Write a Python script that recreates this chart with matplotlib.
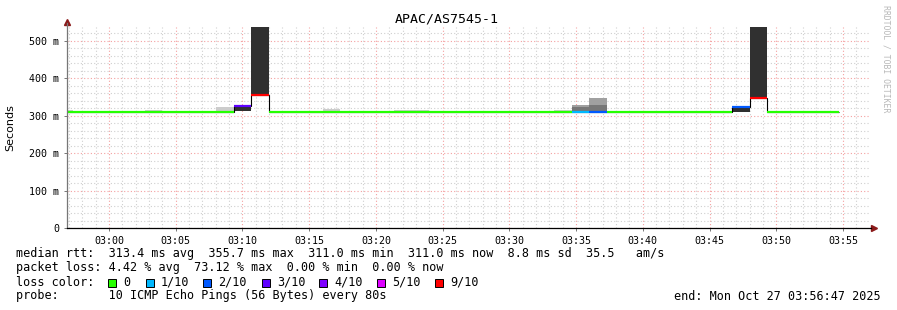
import numpy as np
import pandas as pd
import matplotlib.pyplot as plt
import matplotlib.dates as mdates
from matplotlib.patches import Rectangle
from matplotlib.ticker import MultipleLocator, FuncFormatter

W, H = 897, 310
mono = 'DejaVu Sans Mono'

# 44 samples, one every 80 s
inicio = pd.date_range('2025-10-27 02:56:00', periods=44, freq='80s')
mediana = [311, 311, 311, 311, 311, 311, 311, 311, 311, 311,
           326, 356, 311, 311, 311, 311, 311, 311, 311, 311,
           311, 311, 311, 311, 311, 311, 311, 311, 311, 311,
           311, 311, 311, 311, 311, 311, 311, 311, 323, 348,
           311, 311, 311, 311]
perda = [0, 0, 0, 0, 0, 0, 0, 0, 0, 0,
         3, 9, 0, 0, 0, 0, 0, 0, 0, 0,
         0, 0, 0, 0, 0, 0, 0, 0, 0, 1,
         2, 0, 0, 0, 0, 0, 0, 0, 2, 9,
         0, 0, 0, 0]

# smoke layers (sample index, low, high, shade)
fumaca_idx = [0, 5, 9, 10, 11, 15, 19, 20, 28, 29, 29, 30, 30, 38, 39]
fumaca_min = [311, 311, 311, 312, 356, 311, 311, 311, 311, 311, 322, 311, 328, 311, 348]
fumaca_max = [316, 316, 324, 325, 560, 318, 314, 314, 315, 322, 328, 328, 347, 321, 560]
fumaca_cor = ['#cccccc', '#cccccc', '#cccccc', '#303030', '#303030', '#cccccc', '#cccccc',
              '#cccccc', '#cccccc', '#777777', '#a0a0a0', '#777777', '#a0a0a0', '#303030', '#303030']

cores_perda = {0: '#26ff00', 1: '#00b8ff', 2: '#0059ff', 3: '#5e00ff',
               4: '#7e00ff', 5: '#dd00ff', 9: '#ff0000'}
rotulos_perda = ['0', '1/10', '2/10', '3/10', '4/10', '5/10', '9/10']
chaves_perda = [0, 1, 2, 3, 4, 5, 9]

passo = 80 / 86400
x0 = mdates.date2num(inicio)
x1 = x0 + passo

fig = plt.figure(figsize=(W / 100, H / 100), dpi=100)
fig.patch.set_facecolor('white')
ax = fig.add_axes([67 / W, (H - 228) / H, (869 - 67) / W, (228 - 27) / H])

t0 = pd.Timestamp('2025-10-27 03:00')
ax.set_xlim(mdates.date2num(t0 - pd.Timedelta(minutes=3.147)),
            mdates.date2num(t0 + pd.Timedelta(minutes=56.95)))
ax.set_ylim(0, 537)

# grid
ax.xaxis.set_major_locator(mdates.MinuteLocator(byminute=range(0, 60, 5)))
ax.xaxis.set_minor_locator(mdates.MinuteLocator())
ax.xaxis.set_major_formatter(mdates.DateFormatter('%H:%M'))
ax.yaxis.set_major_locator(MultipleLocator(100))
ax.yaxis.set_minor_locator(MultipleLocator(20))
ax.yaxis.set_major_formatter(FuncFormatter(lambda v, p: '0' if v == 0 else f'{int(v)} m'))
ax.grid(which='minor', color='#cfcfcf', linestyle=(0, (1, 2)), linewidth=0.8)
ax.grid(which='major', color='#f4a0a0', linestyle=(0, (1, 2)), linewidth=0.8)
ax.set_axisbelow(True)

for idx, lo, hi, c in zip(fumaca_idx, fumaca_min, fumaca_max, fumaca_cor):
    ax.bar(x0[idx], hi - lo, width=passo, bottom=lo, align='edge', color=c, linewidth=0, zorder=2)

bordas = np.append(x0, x1[-1])
ax.stairs(mediana, bordas, baseline=None, color='black', linewidth=0.8, zorder=3)
ax.hlines(mediana, x0, x1, colors=[cores_perda[p] for p in perda], linewidth=1.6, zorder=4)

for s in ax.spines.values():
    s.set_visible(False)
ax.plot([0, 0], [0, 1.02], transform=ax.transAxes, color='#777777', lw=0.9, clip_on=False, zorder=5)
ax.plot([0, 1.003], [0, 0], transform=ax.transAxes, color='black', lw=0.9, clip_on=False, zorder=5)
ax.plot([0], [1.027], marker='^', ms=4, color='#8b1a1a', transform=ax.transAxes, clip_on=False)
ax.plot([1.006], [0], marker='>', ms=4, color='#8b1a1a', transform=ax.transAxes, clip_on=False)

ax.tick_params(axis='both', which='both', length=2, width=0.7, color='#777777', labelsize=7.2)
ax.tick_params(axis='x', which='minor', length=0)
ax.tick_params(axis='y', which='minor', length=0)
ax.tick_params(axis='x', pad=4)
for lab in ax.get_xticklabels() + ax.get_yticklabels():
    lab.set_family(mono)
ax.set_ylabel('Seconds', fontsize=8, labelpad=10)

fig.text(447 / W, 1 - 19 / H, 'APAC/AS7545-1', family=mono, fontsize=9.5, ha='center', va='center')
fig.text(886 / W, 1 - 5 / H, 'RRDTOOL / TOBI OETIKER', family=mono, fontsize=5.9, color='#b8b8b8',
         rotation=270, ha='center', va='top')

tam = 8.5
fig.text(16 / W, 1 - 254 / H,
         'median rtt:  313.4 ms avg  355.7 ms max  311.0 ms min  311.0 ms now  8.8 ms sd  35.5   am/s',
         family=mono, fontsize=tam, va='center')
fig.text(16 / W, 1 - 268 / H, 'packet loss: 4.42 % avg  73.12 % max  0.00 % min  0.00 % now',
         family=mono, fontsize=tam, va='center')
fig.text(16 / W, 1 - 282 / H, 'loss color:', family=mono, fontsize=tam, va='center')
fig.text(16 / W, 1 - 296 / H, 'probe:       10 ICMP Echo Pings (56 Bytes) every 80s',
         family=mono, fontsize=tam, va='center')
fig.text(881 / W, 1 - 296 / H, 'end: Mon Oct 27 03:56:47 2025', family=mono, fontsize=tam,
         va='center', ha='right')

quad_x = [108, 146, 203, 262, 319, 377, 435]
for qx, k, rot in zip(quad_x, chaves_perda, rotulos_perda):
    fig.add_artist(Rectangle((qx / W, 1 - 286.5 / H), 8 / W, 8 / H, transform=fig.transFigure,
                             facecolor=cores_perda[k], edgecolor='black', linewidth=0.7))
    fig.text((qx + 15) / W, 1 - 282 / H, rot, family=mono, fontsize=tam, va='center')

fig.savefig('out.png', dpi=100)
